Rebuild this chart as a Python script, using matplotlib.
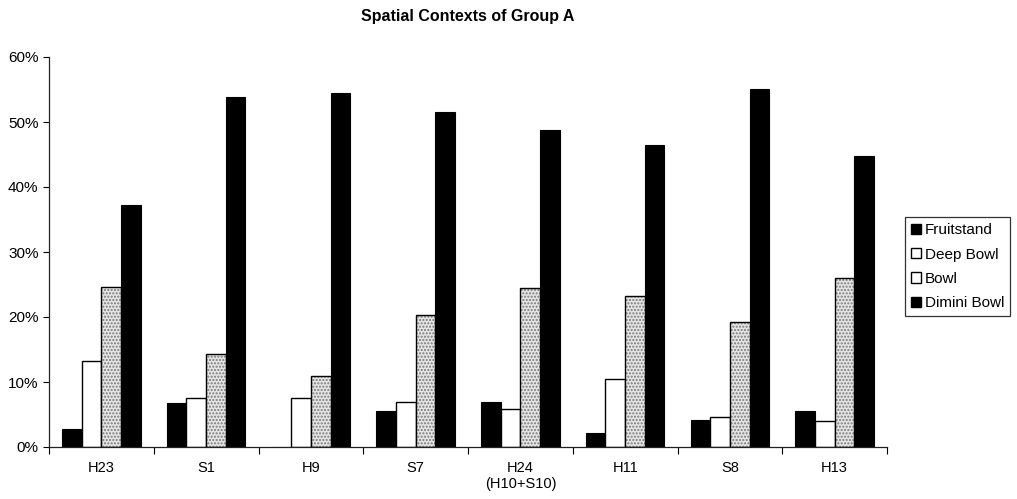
import numpy as np
import matplotlib
matplotlib.use('Agg')
import matplotlib.pyplot as plt
from matplotlib.patches import Patch
from matplotlib.ticker import PercentFormatter

plt.rcParams['font.family'] = ['Liberation Sans', 'DejaVu Sans']

categories = ['H23', 'S1', 'H9', 'S7', 'H24\n(H10+S10)', 'H11', 'S8', 'H13']
fruitstand = [2.7, 6.7, 0.0, 5.5, 6.9, 2.2, 4.2, 5.5]
deep_bowl = [13.3, 7.6, 7.6, 6.9, 5.8, 10.4, 4.6, 4.0]
bowl = [24.6, 14.3, 11.0, 20.3, 24.4, 23.3, 19.2, 26.0]
dimini_bowl = [37.2, 53.8, 54.5, 51.6, 48.7, 46.4, 55.1, 44.8]
series_names = ['Fruitstand', 'Deep Bowl', 'Bowl', 'Dimini Bowl']

fig = plt.figure(figsize=(10.17, 4.99), dpi=100)
ax = fig.add_axes([49 / 1017, 1 - 447 / 499, 838 / 1017, 390 / 499])

x = np.arange(len(categories))
w = 0.1875
offsets = (np.arange(4) - 1.5) * w

ax.bar(x + offsets[0], fruitstand, w, color='black', edgecolor='black', lw=0.8)
ax.bar(x + offsets[1], deep_bowl, w, color='white', edgecolor='black', lw=1.0)
# stippled grey fill, then outline on top
ax.bar(x + offsets[2], bowl, w, color='#e4e4e4', edgecolor='#7a7a7a', hatch='.....', lw=0)
ax.bar(x + offsets[2], bowl, w, fill=False, edgecolor='black', lw=1.0)
ax.bar(x + offsets[3], dimini_bowl, w, color='black', edgecolor='black', lw=0.8)

ax.set_xlim(-0.5, len(categories) - 0.5)
ax.set_ylim(0, 60)
ax.set_yticks(np.arange(0, 61, 10))
ax.yaxis.set_major_formatter(PercentFormatter(decimals=0))
ax.set_xticks(x)
ax.set_xticklabels(categories, fontsize=10.5)
ax.set_xticks(np.arange(len(categories) + 1) - 0.5, minor=True)
ax.tick_params(axis='x', which='major', length=0, pad=10)
ax.tick_params(axis='x', which='minor', length=5, width=0.8, direction='out')
ax.tick_params(axis='y', labelsize=11, length=4, width=0.8, direction='out')
for s in ['top', 'right']:
    ax.spines[s].set_visible(False)
for s in ['left', 'bottom']:
    ax.spines[s].set_linewidth(0.9)
    ax.spines[s].set_color('#222222')

fig.text(468 / 1017, 1 - 17 / 499, 'Spatial Contexts of Group A', ha='center', va='center',
         fontsize=11.5, fontweight='bold')

handles = [
    Patch(facecolor='black', edgecolor='black'),
    Patch(facecolor='white', edgecolor='black'),
    Patch(facecolor='white', edgecolor='black'),
    Patch(facecolor='black', edgecolor='black'),
]
leg = fig.legend(handles, series_names, loc='upper left', bbox_to_anchor=(905 / 1017, 1 - 217 / 499),
                 fontsize=11, frameon=True, fancybox=False, handlelength=0.65, handleheight=0.65,
                 handletextpad=0.25, borderpad=0.4, labelspacing=0.68, borderaxespad=0)
leg.get_frame().set_edgecolor('black')
leg.get_frame().set_linewidth(0.9)

fig.savefig('out.png', dpi=100)
